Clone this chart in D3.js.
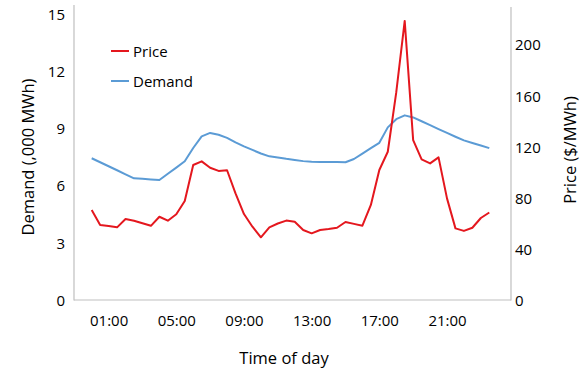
<!DOCTYPE html>
<html>
<head>
<meta charset="utf-8">
<script src="https://cdn.jsdelivr.net/npm/d3@7/dist/d3.min.js"></script>
<style>
  html, body { margin: 0; padding: 0; background: #fff; }
  svg { display: block; font-family: "Open Sans", "Liberation Sans", sans-serif; }
</style>
</head>
<body>
<svg id="chart" width="584" height="369"></svg>
<script>
// ---- data ----
const times = ["00:00","00:30","01:00","01:30","02:00","02:30","03:00","03:30",
  "04:00","04:30","05:00","05:30","06:00","06:30","07:00","07:30",
  "08:00","08:30","09:00","09:30","10:00","10:30","11:00","11:30",
  "12:00","12:30","13:00","13:30","14:00","14:30","15:00","15:30",
  "16:00","16:30","17:00","17:30","18:00","18:30","19:00","19:30",
  "20:00","20:30","21:00","21:30","22:00","22:30","23:00","23:30"];
const price = [70.8,59.1,58.3,57.3,63.8,62.5,60.5,58.5,
  65.6,62.5,67.5,77.9,106.1,109,104,101.5,
  102,83.9,67.7,57.8,49.5,57.3,60.3,62.6,
  61.7,55.2,52.6,55.2,56,57,61.5,60,
  58.6,74.8,102.2,116.5,163,219,125.6,110.5,
  107.4,112.1,80,56.5,54.5,57,64.6,68.9];
const demand = [7.46,7.25,7.04,6.83,6.62,6.41,6.38,6.35,
  6.32,6.65,6.97,7.30,8.00,8.61,8.79,8.69,
  8.53,8.29,8.08,7.90,7.71,7.56,7.50,7.43,
  7.37,7.31,7.28,7.27,7.27,7.26,7.25,7.42,
  7.70,7.99,8.27,9.08,9.51,9.71,9.60,9.40,
  9.20,8.99,8.79,8.59,8.40,8.26,8.13,7.99];
const xTickLabels = ["01:00","05:00","09:00","13:00","17:00","21:00"];
const demandTicks = [0,3,6,9,12,15];
const priceTicks = [0,40,80,120,160,200];
const seriesNames = ["Price","Demand"];
const colors = {Price: "#e4171e", Demand: "#5b9bd5"};

// ---- layout ----
const svg = d3.select("#chart");
const plot = {left: 74, right: 511, top: 5, bottom: 300.5};
const hours = t => { const [h, m] = t.split(":").map(Number); return h + m / 60; };

const x = d3.scaleLinear().domain([0, 23.5]).range([91.7, 489.3]);
const yL = d3.scaleLinear().domain([0, 15]).range([300.5, 14.5]);
const yR = d3.scaleLinear().domain([0, 224]).range([300.5, 14.5]);

const axisColor = "#bfbfbf";
// frame lines
svg.append("line").attr("x1", plot.left).attr("x2", plot.left)
  .attr("y1", plot.top).attr("y2", plot.bottom).attr("stroke", axisColor).attr("stroke-width", 1.2);
svg.append("line").attr("x1", plot.right).attr("x2", plot.right)
  .attr("y1", plot.top + 2).attr("y2", plot.bottom).attr("stroke", axisColor).attr("stroke-width", 1.2);
svg.append("line").attr("x1", plot.left).attr("x2", plot.right)
  .attr("y1", plot.bottom - 0.5).attr("y2", plot.bottom - 0.5).attr("stroke", axisColor).attr("stroke-width", 1.2);

// left axis
const gL = svg.append("g").attr("transform", `translate(${plot.left},0)`)
  .call(d3.axisLeft(yL).tickValues(demandTicks).tickSize(0).tickPadding(9));
gL.select(".domain").remove();
gL.selectAll("text").attr("font-size", 15).attr("fill", "#000")
  .attr("font-family", "Open Sans, sans-serif");

// right axis
const gR = svg.append("g").attr("transform", `translate(${plot.right},0)`)
  .call(d3.axisRight(yR).tickValues(priceTicks).tickSize(0).tickPadding(4));
gR.select(".domain").remove();
gR.selectAll("text").attr("font-size", 15).attr("fill", "#000")
  .attr("font-family", "Open Sans, sans-serif");

// bottom axis
const gB = svg.append("g").attr("transform", `translate(0,${plot.bottom})`)
  .call(d3.axisBottom(x).tickValues(xTickLabels.map(hours)).tickSize(0).tickPadding(15)
    .tickFormat((d, i) => xTickLabels[i]));
gB.select(".domain").remove();
gB.selectAll("text").attr("font-size", 15).attr("fill", "#000")
  .attr("font-family", "Open Sans, sans-serif");

// lines
const lineD = d3.line().x((d, i) => x(hours(times[i]))).y(d => yL(d));
const lineP = d3.line().x((d, i) => x(hours(times[i]))).y(d => yR(d));
svg.append("path").datum(demand).attr("d", lineD).attr("fill", "none")
  .attr("stroke", colors.Demand).attr("stroke-width", 2).attr("stroke-linejoin", "round");
svg.append("path").datum(price).attr("d", lineP).attr("fill", "none")
  .attr("stroke", colors.Price).attr("stroke-width", 2).attr("stroke-linejoin", "round");

// legend
const leg = svg.append("g");
seriesNames.forEach((name, i) => {
  const yy = 51 + i * 30;
  leg.append("line").attr("x1", 111).attr("x2", 129).attr("y1", yy).attr("y2", yy)
    .attr("stroke", colors[name]).attr("stroke-width", 2);
  leg.append("text").attr("x", 133).attr("y", yy + 5.5).attr("font-size", 15)
    .attr("fill", "#000").text(name);
});

// axis titles
svg.append("text").attr("transform", "translate(34,157) rotate(-90)")
  .attr("text-anchor", "middle").attr("font-size", 16.5).attr("fill", "#000")
  .text("Demand (,000 MWh)");
svg.append("text").attr("transform", "translate(576,150) rotate(-90)")
  .attr("text-anchor", "middle").attr("font-size", 16.5).attr("fill", "#000")
  .text("Price ($/MWh)");
svg.append("text").attr("x", 284).attr("y", 364)
  .attr("text-anchor", "middle").attr("font-size", 16.5).attr("fill", "#000")
  .text("Time of day");
</script>
</body>
</html>
